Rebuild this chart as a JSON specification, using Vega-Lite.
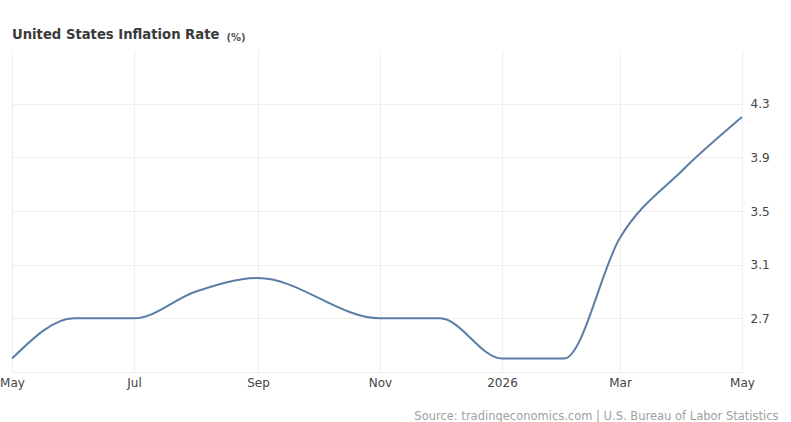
{
  "$schema": "https://vega.github.io/schema/vega-lite/v6.json",
  "width": 730,
  "height": 322,
  "autosize": "none",
  "padding": {"left": 12, "top": 50, "right": 49, "bottom": 50},
  "background": "white",
  "config": {
    "view": {"stroke": null},
    "font": "DejaVu Sans"
  },
  "title": {
    "text": "United States Inflation Rate",
    "anchor": "start",
    "frame": "group",
    "offset": -10,
    "fontSize": 13.2,
    "fontWeight": "bold",
    "color": "#3a3a3a",
    "font": "DejaVu Sans"
  },
  "data": {
    "values": [
      {"date": "2025-05-01", "rate": 2.4},
      {"date": "2025-06-01", "rate": 2.7},
      {"date": "2025-07-01", "rate": 2.7},
      {"date": "2025-08-01", "rate": 2.9},
      {"date": "2025-09-01", "rate": 3.0},
      {"date": "2025-11-01", "rate": 2.7},
      {"date": "2025-12-01", "rate": 2.7},
      {"date": "2026-01-01", "rate": 2.4},
      {"date": "2026-02-01", "rate": 2.4},
      {"date": "2026-03-01", "rate": 3.3},
      {"date": "2026-04-01", "rate": 3.8},
      {"date": "2026-05-01", "rate": 4.2}
    ]
  },
  "mark": {"type": "line", "interpolate": "monotone", "color": "#5b7da6", "strokeWidth": 2},
  "encoding": {
    "x": {
      "field": "date",
      "type": "temporal",
      "scale": {"type": "utc", "domain": [{"year": 2025, "month": 5, "date": 1, "utc": true}, {"year": 2026, "month": 5, "date": 1, "utc": true}], "nice": false},
      "axis": {
        "values": [
          {"year": 2025, "month": 5, "date": 1, "utc": true},
          {"year": 2025, "month": 7, "date": 1, "utc": true},
          {"year": 2025, "month": 9, "date": 1, "utc": true},
          {"year": 2025, "month": 11, "date": 1, "utc": true},
          {"year": 2026, "month": 1, "date": 1, "utc": true},
          {"year": 2026, "month": 3, "date": 1, "utc": true},
          {"year": 2026, "month": 5, "date": 1, "utc": true}
        ],
        "labelExpr": "utcmonth(datum.value) == 0 ? utcFormat(datum.value, '%Y') : utcFormat(datum.value, '%b')",
        "grid": true,
        "gridColor": "#eeeeee",
        "gridWidth": 1,
        "domain": true,
        "domainColor": "#eeeeee",
        "ticks": false,
        "labelPadding": 5,
        "labelFontSize": 12,
        "labelFont": "DejaVu Sans",
        "labelColor": "#444444",
        "labelFlush": false,
        "labelBound": false,
        "labelOverlap": false,
        "title": "Source: tradingeconomics.com | U.S. Bureau of Labor Statistics",
        "titleFont": "DejaVu Sans",
        "titleAnchor": "end",
        "titleAlign": "right",
        "titleX": 766,
        "titleY": 38,
        "titleFontSize": 11.5,
        "titleFontWeight": "normal",
        "titleColor": "#a0a0a0"
      }
    },
    "y": {
      "field": "rate",
      "type": "quantitative",
      "scale": {"domain": [2.3, 4.7], "nice": false, "zero": false},
      "axis": {
        "orient": "right",
        "values": [2.7, 3.1, 3.5, 3.9, 4.3],
        "format": ".1f",
        "grid": true,
        "gridColor": "#eeeeee",
        "domain": false,
        "ticks": false,
        "labelPadding": 8,
        "labelFontSize": 12,
        "labelFont": "DejaVu Sans",
        "labelColor": "#444444",
        "title": "(%)",
        "titleFont": "DejaVu Sans",
        "titleFontSize": 10,
        "titleFontWeight": "bold",
        "titleColor": "#555555",
        "titleAngle": 0,
        "titleAlign": "left",
        "titleBaseline": "alphabetic",
        "titleX": -516,
        "titleY": -10
      }
    }
  }
}
